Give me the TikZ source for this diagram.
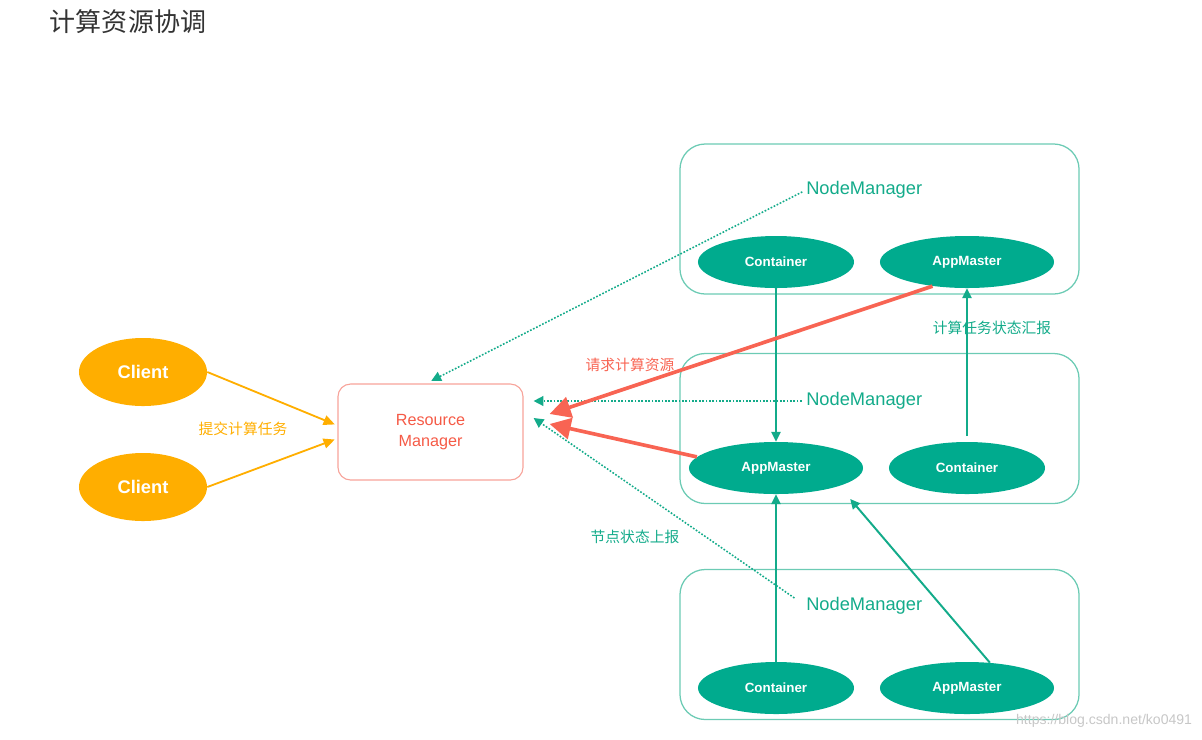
\documentclass[tikz,border=0pt]{standalone}
\usepackage{fontspec}
\setmainfont{Liberation Sans}
\newfontfamily\cjk{Noto Sans CJK SC}
\usetikzlibrary{arrows.meta,shapes.geometric,calc}
\definecolor{clorange}{HTML}{FFAE00}
\definecolor{rmred}{HTML}{F55A46}
\definecolor{rmborder}{HTML}{F7A39A}
\definecolor{reqred}{HTML}{F86453}
\definecolor{tealfill}{HTML}{00AB8E}
\definecolor{tealline}{HTML}{13AB8A}
\definecolor{tealbox}{HTML}{6CCBB4}
\definecolor{titlegray}{HTML}{333333}
\tikzset{
    client/.style={
    ellipse,fill=clorange,text=white,minimum width=3.2cm,minimum height=1.7cm,
    font=\bfseries\fontsize{13}{15}\selectfont
    },
    rmbox/.style={
    rectangle,rounded corners=9pt,draw=rmborder,line width=0.8pt,
    minimum width=4.625cm,minimum height=2.4cm,align=center,text=rmred,
    font=\fontsize{11.5}{15}\selectfont
    },
    nmbox/.style={
    rectangle,rounded corners=18pt,draw=tealbox,line width=0.9pt,
    minimum width=9.975cm,minimum height=3.75cm
    },
    nmtext/.style={
    anchor=west,text=tealline,inner sep=0pt,font=\fontsize{13}{15}\selectfont
    },
    worker/.style={
    ellipse,fill=tealfill,text=white,minimum width=3.9cm,minimum height=1.3cm,
    font=\bfseries\fontsize{9.5}{11}\selectfont
    },
    master/.style={
    worker,minimum width=4.35cm
    },
    lbl/.style={
    font=\cjk\fontsize{10.5}{12}\selectfont
    },
    clarrow/.style={
    draw=clorange,line width=1.3pt,-{Triangle[length=8pt,width=7pt]}
    },
    report/.style={
    draw=tealline,line width=1.1pt,dash pattern=on 1.2pt off 1.2pt,
    -{Triangle[length=7pt,width=7pt]}
    },
    taskarrow/.style={
    draw=tealline,line width=1.4pt,-{Triangle[length=7pt,width=6.5pt]}
    },
    request/.style={
    draw=reqred,line width=2.6pt,-{Triangle[length=15pt,width=15pt]}
    },
}
\begin{document}
\begin{tikzpicture}[x=0.025cm, y=-0.025cm]
   \useasboundingbox (0,0) rectangle (1202,739);
   \node[anchor=west,text=titlegray,font=\cjk\fontsize{18.5}{20}\selectfont] (ttl) at (45,22) {计算资源协调};

   % clients and resource manager
   \node[client] (cl1) at (143,372) {Client};
   \node[client] (cl2) at (143,487) {Client};
   \node[rmbox] (rm) at (430.5,432) {Resource\\Manager};
   \node[lbl,text=clorange] (submit) at (243,429) {提交计算任务};

   % node managers
   \node[nmbox] (box1) at (879.5,219) {};
   \node[nmbox] (box2) at (879.5,428.5) {};
   \node[nmbox] (box3) at (879.5,644.5) {};
   \node[nmtext] (nm1) at (806,190) {NodeManager};
   \node[nmtext] (nm2) at (806,401) {NodeManager};
   \node[nmtext] (nm3) at (806,606) {NodeManager};
   \node[worker] (c1) at (776,262) {Container};
   \node[master] (am1) at (967,262) {AppMaster};
   \node[master] (am2) at (776,468) {AppMaster};
   \node[worker] (c2) at (967,468) {Container};
   \node[worker] (c3) at (776,688) {Container};
   \node[master] (am3) at (967,688) {AppMaster};

   \node[lbl,text=reqred] (req) at (630,365) {请求计算资源};
   \node[lbl,text=tealline] (taskrep) at (992,328) {计算任务状态汇报};
   \node[lbl,text=tealline] (noderep) at (635,537) {节点状态上报};
   \node[anchor=east,text=black!22,font=\fontsize{10}{12}\selectfont] (wm) at (1197,721) {https://blog.csdn.net/ko0491};

   \path
    (cl1.east) edge [clarrow, shorten >=2pt] (rm.176)
    (cl2.east) edge [clarrow, shorten >=2pt] (rm.184);
   \path
    (nm1.west) edge [report, shorten <=3pt, shorten >=4pt] (rm.95)
    (nm2.west) edge [report, shorten <=3pt] ($(rm.east |- nm2.west)+(10,0)$)
    (nm3.west) edge [report, shorten <=10pt] ($(rm.east)+(10,-14)$);
   \path
    (c1.south) edge [taskarrow] (am2.north)
    (c2.north) edge [taskarrow, shorten <=4pt] (am1.south)
    (c3.north) edge [taskarrow] (am2.south)
    (am3.48) edge [taskarrow, shorten >=12pt] (am2.-16);
   \path
    (am1.215) edge [request] ($(rm.east)+(26,-18)$)
    (am2.172) edge [request] ($(rm.east)+(26,-8)$);
  \end{tikzpicture}
\end{document}
